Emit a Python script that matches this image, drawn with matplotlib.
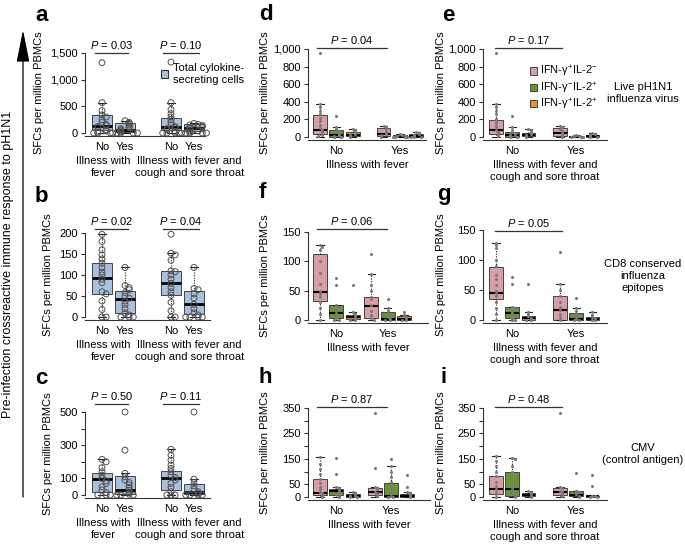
import matplotlib
matplotlib.use('Agg')
import matplotlib.pyplot as plt
from matplotlib.patches import Patch, FancyArrowPatch

# values, SFCs per million PBMCs
# box stats are [q1, median, q3, whisker low, whisker high]
# left column order: No / Yes (fever), No / Yes (fever + cough + sore throat)
a_stats = [[60, 140, 340, 0, 570], [15, 60, 180, 0, 230], [60, 120, 290, 0, 570], [40, 90, 160, 0, 180]]
a_points = [[1320, 570, 420, 340, 300, 250, 200, 160, 140, 120, 100, 60, 40, 20, 0, 0, 0],
            [230, 200, 180, 150, 120, 100, 80, 60, 40, 20, 0, 0, 0, 0, 0],
            [1330, 570, 440, 360, 300, 250, 200, 150, 120, 100, 80, 60, 30, 0, 0, 0, 0],
            [180, 160, 150, 140, 120, 100, 90, 60, 40, 20, 0, 0, 0, 0, 0]]
b_stats = [[55, 93, 128, 0, 197], [10, 43, 63, 0, 118], [52, 80, 110, 0, 152], [7, 30, 63, 0, 118]]
b_points = [[197, 180, 160, 148, 138, 128, 117, 107, 100, 90, 82, 60, 55, 38, 18, 0, 0],
            [118, 75, 70, 65, 58, 50, 45, 38, 30, 20, 10, 5, 0, 0, 0],
            [197, 152, 148, 135, 110, 108, 100, 90, 80, 70, 60, 52, 35, 15, 0, 0],
            [118, 68, 65, 55, 45, 30, 20, 10, 5, 0, 0, 0, 0]]
c_stats = [[20, 98, 130, 0, 215], [5, 30, 115, 0, 130], [30, 105, 145, 0, 275], [5, 20, 65, 0, 95]]
c_points = [[215, 200, 165, 140, 120, 100, 85, 70, 50, 30, 15, 0, 0, 0],
            [500, 270, 130, 110, 90, 75, 60, 45, 30, 15, 5, 0, 0, 0],
            [275, 240, 210, 180, 160, 140, 120, 105, 90, 70, 45, 20, 0, 0, 0],
            [500, 95, 75, 55, 35, 20, 10, 0, 0, 0, 0]]

# middle/right columns order: No (IFN+IL2-, IFN-IL2+, IFN+IL2+), Yes (same three)
d_stats = [[30, 80, 245, 0, 370], [5, 25, 75, 0, 115], [10, 25, 60, 0, 90],
           [10, 30, 105, 0, 130], [0, 5, 20, 0, 30], [0, 10, 30, 0, 60]]
d_points = [[960, 370, 340, 300, 260, 220, 180, 140, 100, 80, 60, 45, 30, 20, 10],
            [240, 115, 90, 70, 50, 35, 25, 15, 5, 0, 0], [90, 75, 60, 45, 35, 25, 15, 10, 0],
            [130, 115, 100, 80, 60, 40, 30, 20, 10, 5], [30, 20, 15, 10, 5, 0, 0, 0],
            [60, 40, 30, 20, 10, 5, 0, 0]]
e_stats = [[30, 80, 195, 0, 370], [0, 25, 55, 0, 110], [10, 25, 50, 0, 90],
           [10, 50, 105, 0, 130], [0, 5, 15, 0, 20], [0, 10, 25, 0, 40]]
e_points = [[960, 370, 340, 300, 260, 200, 170, 140, 110, 80, 60, 40, 20, 10],
            [240, 110, 80, 55, 40, 30, 20, 10, 0, 0], [90, 75, 55, 40, 30, 20, 10, 0],
            [130, 115, 90, 70, 50, 30, 15, 5], [20, 15, 10, 5, 0, 0], [40, 30, 20, 10, 5, 0]]
f_stats = [[33, 48, 112, 0, 128], [3, 12, 25, 0, 25], [2, 5, 8, 0, 13],
           [3, 24, 40, 0, 78], [0, 2, 13, 0, 20], [0, 2, 6, 0, 8]]
f_points = [[128, 125, 120, 100, 80, 62, 50, 45, 40, 30, 20, 10, 0],
            [72, 60, 25, 22, 18, 12, 8, 3, 0, 0], [60, 13, 10, 8, 6, 4, 2, 0, 0],
            [113, 78, 60, 50, 40, 35, 25, 15, 8, 3, 0], [36, 20, 15, 10, 5, 2, 0, 0],
            [14, 8, 5, 3, 0, 0]]
g_stats = [[35, 45, 88, 0, 128], [3, 12, 22, 0, 22], [0, 4, 7, 0, 13],
           [0, 17, 40, 0, 60], [0, 2, 12, 0, 20], [0, 2, 5, 0, 13]]
g_points = [[128, 125, 120, 100, 90, 75, 68, 58, 48, 45, 40, 30, 20, 10, 0],
            [72, 60, 22, 20, 15, 12, 8, 3, 0, 0], [60, 13, 10, 6, 4, 2, 0, 0],
            [113, 60, 50, 40, 30, 22, 17, 10, 5, 0], [36, 20, 15, 10, 5, 2, 0, 0],
            [13, 8, 5, 3, 0, 0]]
h_stats = [[7, 17, 72, 0, 158], [7, 24, 33, 0, 38], [0, 4, 13, 0, 20],
           [7, 20, 35, 0, 40], [0, 4, 55, 0, 121], [0, 5, 13, 0, 20]]
h_points = [[158, 130, 110, 90, 72, 55, 40, 30, 20, 15, 10, 5, 0],
            [154, 92, 38, 35, 30, 25, 20, 10, 5, 0], [20, 15, 10, 5, 3, 0, 0],
            [330, 115, 40, 35, 30, 20, 15, 10, 5], [148, 121, 100, 80, 60, 30, 15, 5, 0, 0],
            [86, 40, 20, 15, 10, 5, 0]]
i_stats = [[10, 33, 81, 0, 161], [3, 33, 98, 0, 153], [4, 9, 17, 0, 25],
           [7, 20, 37, 0, 40], [3, 9, 22, 0, 22], [0, 2, 3, 0, 3]]
i_points = [[161, 140, 120, 100, 81, 60, 45, 33, 20, 10, 0],
            [153, 150, 120, 98, 60, 40, 30, 20, 10, 3, 0], [25, 20, 15, 10, 5, 0],
            [330, 40, 35, 25, 20, 15, 10, 5], [94, 22, 20, 10, 5, 0], [86, 42, 3, 2, 0, 0]]

p_values = {'a': ['0.03', '0.10'], 'b': ['0.02', '0.04'], 'c': ['0.50', '0.11'],
            'd': ['0.04'], 'e': ['0.17'], 'f': ['0.06'], 'g': ['0.05'], 'h': ['0.87'], 'i': ['0.48']}

ticks_a = [0, 500, 1000, 1500]
labels_a = ['0', '500', '1,000', '1,500']
ticks_b = [0, 50, 100, 150, 200]
labels_b = ['0', '50', '100', '150', '200']
ticks_c = [0, 100, 200, 300, 400, 500]
labels_c = ['0', '100', '', '300', '', '500']
ticks_de = [0, 200, 400, 600, 800, 1000]
labels_de = ['0', '200', '400', '600', '800', '1,000']
ticks_fg = [0, 50, 100, 150]
labels_fg = ['0', '50', '100', '150']
ticks_hi = [0, 50, 100, 150, 200, 250, 300, 350]
labels_hi = ['0', '50', '', '150', '', '250', '', '350']

legend_labels = ['IFN-γ$^{+}$IL-2$^{-}$', 'IFN-γ$^{-}$IL-2$^{+}$', 'IFN-γ$^{+}$IL-2$^{+}$']
group_names = ['Illness with\nfever', 'Illness with fever and\ncough and sore throat']
row_names = ['Live pH1N1\ninfluenza virus', 'CD8 conserved\ninfluenza\nepitopes', 'CMV\n(control antigen)']

BLUE = '#a9c1de'
PINK = '#d99da6'
GREEN = '#6a9537'
ORANGE = '#e8913b'
AXC = '#333333'

plt.rcParams['font.family'] = ['Liberation Sans', 'DejaVu Sans']
plt.rcParams['font.size'] = 8
plt.rcParams['mathtext.fontset'] = 'custom'
plt.rcParams['mathtext.rm'] = 'Liberation Sans'
plt.rcParams['mathtext.it'] = 'Liberation Sans:italic'
plt.rcParams['mathtext.default'] = 'regular'

W, H = 685, 548
fig = plt.figure(figsize=(6.85, 5.48), dpi=100)


def px_axes(xl, xr, ybot, y0, ytop_px, ytop_val):
    # axes placed in pixel units of the 685x548 canvas
    s = (y0 - ytop_px) / ytop_val
    top_px = ytop_px - 4
    ax = fig.add_axes([xl / W, 1 - ybot / H, (xr - xl) / W, (ybot - top_px) / H])
    ax.set_ylim(-(ybot - y0) / s, ytop_val + (ytop_px - top_px) / s)
    return ax, s


def setup(ax, ticks, labels, xlim):
    ax.set_xlim(*xlim)
    for side in ['top', 'right']:
        ax.spines[side].set_visible(False)
    ax.spines['left'].set_bounds(ticks[0], ticks[-1])
    for side in ['left', 'bottom']:
        ax.spines[side].set_linewidth(0.8)
        ax.spines[side].set_color(AXC)
    ax.set_yticks(ticks)
    ax.set_yticklabels(labels)
    ax.tick_params(axis='y', length=3, width=0.8, color=AXC, pad=2, labelsize=8)
    ax.tick_params(axis='x', length=0, pad=4, labelsize=8)


def swarm(vals, centre, thresh, step):
    placed, xs = [], []
    for v in vals:
        n = sum(abs(p - v) < thresh for p in placed)
        k = (n + 1) // 2
        xs.append(centre + (k * step if n % 2 else -k * step))
        placed.append(v)
    return xs


def boxes(ax, stats, pos, width, colors, med_lw, capw):
    st = [dict(q1=s[0], med=s[1], q3=s[2], whislo=s[3], whishi=s[4], fliers=[]) for s in stats]
    art = ax.bxp(st, positions=pos, widths=width, capwidths=capw, patch_artist=True,
                 showfliers=False, manage_ticks=False,
                 boxprops=dict(edgecolor='#444444', linewidth=0.7),
                 medianprops=dict(color='black', linewidth=med_lw, solid_capstyle='butt'),
                 whiskerprops=dict(color='#222222', linewidth=0.8, linestyle=(0, (1, 1.3))),
                 capprops=dict(color='#222222', linewidth=0.8))
    for b, c in zip(art['boxes'], colors):
        b.set_facecolor(c)


def ylabel(ax, top, off):
    ax.annotate('SFCs per million PBMCs', xy=(0, top / 2), xycoords=('axes fraction', 'data'),
                xytext=(-off, 0), textcoords='offset pixels', rotation=90,
                ha='center', va='center', fontsize=8)


def pbar(ax, x0, x1, y, txt):
    ax.plot([x0, x1], [y, y], color=AXC, lw=0.9, clip_on=False)
    ax.annotate('$\\mathit{P}$ = ' + txt, xy=((x0 + x1) / 2, y), xytext=(0, 2),
                textcoords='offset pixels', ha='center', va='bottom', fontsize=8,
                annotation_clip=False)


# left column: total cytokine-secreting cells
left = [('a', a_stats, a_points, 205, 136, 133, 53, ticks_a, labels_a, 1500, 46),
        ('b', b_stats, b_points, 210, 320, 317, 233, ticks_b, labels_b, 210, 37),
        ('c', c_stats, c_points, 210, 498, 495, 412, ticks_c, labels_c, 550, 37)]
pos1 = [1, 2, 4, 5]
axes = {}
for key, stats, pts, xr, ybot, y0, ytp, ticks, labels, bar_y, yoff in left:
    ax, s = px_axes(85, xr, ybot, y0, ytp, ticks[-1])
    setup(ax, ticks, labels, (1 - 17 / 23, 1 + (xr - 102) / 23))
    boxes(ax, stats, pos1, 0.85, [BLUE] * 4, 2.0, 0.35)
    for p, vals in zip(pos1, pts):
        ax.scatter(swarm(vals, p, 2.5 / s, 0.18), vals, s=18, facecolors='none',
                   edgecolors='#505050', linewidths=0.7, zorder=4, clip_on=False)
    ax.set_xticks(pos1)
    ax.set_xticklabels(['No', 'Yes', 'No', 'Yes'])
    for gx, name in zip([1.05, 4.8], group_names):
        ax.annotate(name, xy=(gx, 0), xycoords=('data', 'axes fraction'), xytext=(0, -20),
                    textcoords='offset pixels', ha='center', va='top', linespacing=1.25)
    pbar(ax, 0.7, 2.15, bar_y, p_values[key][0])
    pbar(ax, 3.65, 5.2, bar_y, p_values[key][1])
    ylabel(ax, ticks[-1], yoff)
    axes[key] = ax

axes['a'].legend(handles=[Patch(facecolor=BLUE, edgecolor='#333333', linewidth=0.8)],
                 labels=['Total cylokine-\nsecreting cells'], loc='upper left',
                 bbox_to_anchor=(161 / W, 1 - 63 / H), bbox_transform=fig.transFigure,
                 frameon=False, handlelength=0.65, handleheight=0.65, handletextpad=0.4,
                 borderpad=0, borderaxespad=0, fontsize=8)

# middle and right columns: cytokine subsets
mid = [('d', d_stats, d_points, 308, 426, 140, 137, 49, ticks_de, labels_de, 1010, 3.9, 320, 16.3,
        'Illness with fever', (-0.2, 4.1), 43),
       ('e', e_stats, e_points, 483, 607, 140, 137, 49, ticks_de, labels_de, 1010, 3.95, 496, 16.2,
        group_names[1], (-0.05, 4.1), 42),
       ('f', f_stats, f_points, 308, 428, 323, 320, 232, ticks_fg, labels_fg, 155, 3.15, 320, 16.3,
        'Illness with fever', (-0.2, 4.1), 43),
       ('g', g_stats, g_points, 483, 607, 323, 320, 230, ticks_fg, labels_fg, 148, 3.95, 496, 16.2,
        group_names[1], (-0.05, 4.1), 42),
       ('h', h_stats, h_points, 308, 430, 500, 497, 408, ticks_hi, labels_hi, 352, 3.35, 320, 16.3,
        'Illness with fever', (-0.2, 4.1), 43),
       ('i', i_stats, i_points, 483, 607, 500, 497, 408, ticks_hi, labels_hi, 352, 3.95, 496, 16.2,
        group_names[1], (-0.05, 4.1), 42)]
colors6 = [PINK, GREEN, ORANGE] * 2
for (key, stats, pts, xl, xr, ybot, y0, ytp, ticks, labels, bar_y, yes, c0, unit,
     gname, bar, yoff) in mid:
    ax, s = px_axes(xl, xr, ybot, y0, ytp, ticks[-1])
    setup(ax, ticks, labels, (-(c0 - xl) / unit, (xr - c0) / unit))
    pos = [0, 1, 2, yes, yes + 1, yes + 2]
    boxes(ax, stats, pos, 0.85, colors6, 1.5, 0.45)
    for p, vals in zip(pos, pts):
        ax.scatter(swarm(vals, p, 1.8 / s, 0.15), vals, s=5, color='#7a7a7a', linewidths=0,
                   zorder=4, clip_on=False)
    ax.set_xticks([1, yes + 1])
    ax.set_xticklabels(['No', 'Yes'])
    ax.annotate(gname, xy=(0.5, 0), xycoords='axes fraction', xytext=(0, -20),
                textcoords='offset pixels', ha='center', va='top', linespacing=1.25)
    pbar(ax, bar[0], bar[1], bar_y, p_values[key][0])
    ylabel(ax, ticks[-1], yoff)
    axes[key] = ax

axes['e'].legend(handles=[Patch(facecolor=c, edgecolor='#444444', linewidth=0.7)
                          for c in [PINK, GREEN, ORANGE]],
                 labels=legend_labels, loc='upper left',
                 bbox_to_anchor=(530 / W, 1 - 64 / H), bbox_transform=fig.transFigure,
                 frameon=False, handlelength=0.65, handleheight=0.65, handletextpad=0.25,
                 labelspacing=0.1, borderpad=0, borderaxespad=0, fontsize=8)

# panel letters
for letter, x, y in [('a', 35, 21), ('b', 35, 202), ('c', 35, 384), ('d', 259, 20),
                     ('e', 442, 21), ('f', 259, 198), ('g', 437, 200), ('h', 259, 383),
                     ('i', 440, 383)]:
    fig.text(x / W, 1 - y / H, letter, fontsize=16, fontweight='bold', va='baseline')

for name, y in zip(row_names, [93, 276, 454]):
    fig.text(643 / W, 1 - y / H, name, ha='center', va='center', fontsize=8, linespacing=1.2)

fig.text(8 / W, 1 - 264 / H, 'Pre-infection crossreactive immune response to pH1N1',
         rotation=90, ha='center', va='center', fontsize=9)
fig.add_artist(FancyArrowPatch((23 / W, 1 - 497 / H), (23 / W, 1 - 30 / H),
                               transform=fig.transFigure, arrowstyle='-|>,head_length=2.0,head_width=0.4',
                               mutation_scale=10, color='black', lw=0.9, shrinkA=0, shrinkB=0))

fig.savefig('out.png', dpi=100)
